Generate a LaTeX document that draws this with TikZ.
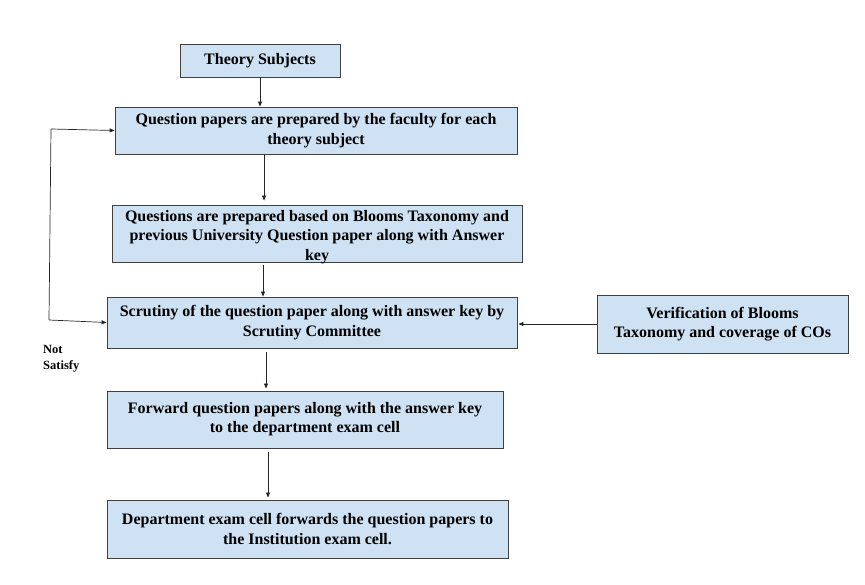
\documentclass[tikz,border=0pt]{standalone}
\usepackage{fontspec}
\setmainfont{Liberation Serif}
\usepackage{xcolor}
\usetikzlibrary{arrows.meta}
\definecolor{boxfill}{HTML}{CFE2F3}
\definecolor{boxline}{HTML}{404040}
\begin{document}
\begin{tikzpicture}[x=1pt,y=-1pt,
    box/.style={draw=boxline, line width=0.9pt, fill=boxfill, align=center, inner sep=0pt,
      font=\fontsize{16}{19.2}\selectfont\bfseries},
    arr/.style={-{Triangle[length=5pt,width=4pt]}, line width=0.7pt, draw=black!85}]
    \useasboundingbox (0,0) rectangle (865,585);

    \node[box, minimum width=160, minimum height=33] (subj) at (260,60.5) {Theory Subjects};
    \node[box, minimum width=402, minimum height=47] (prep) at (316,130.5)
      {Question papers are prepared by the faculty for each\\theory subject};
    \node[box, minimum width=410, minimum height=57] (blooms) at (317,233.5)
      {\rule{0pt}{15pt}Questions are prepared based on Blooms Taxonomy and\\previous University Question paper along with Answer\\\smash{key}};
    \node[box, minimum width=410, minimum height=51] (scrut) at (312,322.5)
      {Scrutiny of the question paper along with answer key by\\Scrutiny Committee};
    \node[box, minimum width=251, minimum height=58] (verif) at (722.5,324)
      {Verification of Blooms\\Taxonomy and coverage of COs};
    \node[box, minimum width=396, minimum height=57] (fwd) at (305,419.5)
      {Forward question papers along with the answer key\\to the department exam cell};
    \node[box, minimum width=401, minimum height=58] (dept) at (307.5,529)
      {Department exam cell forwards the question papers to\\the Institution exam cell.};

    \node[anchor=north west, align=left, inner sep=0pt,
      font=\fontsize{12.5}{15.7}\selectfont\bfseries] (notsat) at (43,345) {Not\\Satisfy};

    \draw[arr] (subj.south) -- (subj.south |- prep.north);
    \draw[arr] (prep.south -| 264,0) -- ([yshift=4]blooms.north -| 264,0);
    \draw[arr] ([yshift=-3]blooms.south -| 263,0) -- (scrut.north -| 263,0);
    \draw[arr] ([yshift=-4]scrut.south -| 266,0) -- ([yshift=2]fwd.north -| 266,0);
    \draw[arr] ([yshift=-4]fwd.south -| 268,0) -- ([yshift=2]dept.north -| 268,0);
    \draw[arr] (verif.west) -- ([xshift=1]scrut.east |- verif.west);

    \coordinate (loopbot) at (49,320);
    \coordinate (looptop) at (51,129);
    \draw[line width=0.7pt, draw=black!85] (loopbot) -- (looptop);
    \draw[arr] (looptop) -- (prep.west);
    \draw[arr] (loopbot) -- (scrut.west);
  \end{tikzpicture}
\end{document}
